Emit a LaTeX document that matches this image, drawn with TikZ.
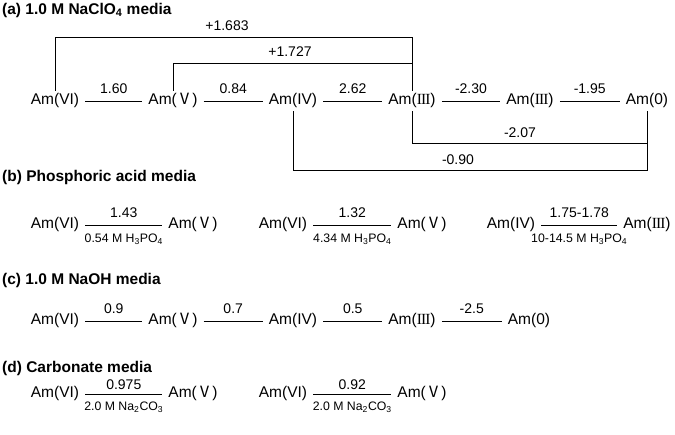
\documentclass[tikz,border=0pt]{standalone}
\usepackage{fontspec}
\setmainfont{Liberation Sans}
\newfontfamily\cjkf{Noto Sans CJK SC}
\newfontfamily\serf{Liberation Serif}
\newcommand{\rnV}{{\cjkf Ⅴ}}
\newcommand{\rnIII}{{\serf I\kern-0.06em I\kern-0.06em I}}
\begin{document}
\begin{tikzpicture}[x=1pt,y=-1pt,
  sp/.style={font=\fontsize{15.5}{18}\selectfont, inner xsep=6pt, inner ysep=3pt, text height=11pt, text depth=3.5pt},
  val/.style={font=\fontsize{14}{16}\selectfont, inner sep=1pt},
  cond/.style={font=\fontsize{12.3}{14}\selectfont, inner sep=1pt},
  ttl/.style={font=\bfseries\fontsize{15.5}{18}\selectfont, anchor=west, inner sep=0pt},
  ln/.style={line width=0.8pt}]
\useasboundingbox (0,0) rectangle (675,435);

% (a)
\node[ttl] (ta) at (2,10) {(a) 1.0 M NaClO\textsubscript{4} media};
\node[sp] (a1) at (55,101) {Am(VI)};
\node[sp] (a2) at (173,101) {Am(\rnV)};
\node[sp] (a3) at (293,101) {Am(IV)};
\node[sp] (a4) at (412,101) {Am(\rnIII)};
\node[sp] (a5) at (530,101) {Am(\rnIII)};
\node[sp] (a6) at (647,101) {Am(0)};
\draw[ln] (a1.east) -- node[val,above=6pt] (l1) {1.60} (a2.west);
\draw[ln] (a2.east) -- node[val,above=6pt] (l2) {0.84} (a3.west);
\draw[ln] (a3.east) -- node[val,above=6pt] (l3) {2.62} (a4.west);
\draw[ln] (a4.east) -- node[val,above=6pt] (l4) {-2.30} (a5.west);
\draw[ln] (a5.east) -- node[val,above=6pt] (l5) {-1.95} (a6.west);
\coordinate (h1) at (0,37);
\coordinate (h2) at (0,63);
\coordinate (h3) at (0,143);
\coordinate (h4) at (0,170);
\draw[ln] (a1.north) -- (a1.north |- h1) -- (a4.north |- h1) -- (a4.north);
\draw[ln] (a2.north) -- (a2.north |- h2) -- (a4.north |- h2);
\draw[ln] (a4.south) -- (a4.south |- h3) -- (a6.south |- h3);
\draw[ln] (a3.south) -- (a3.south |- h4) -- (a6.south |- h4) -- (a6.south);
\node[val] (p1) at (227,26) {+1.683};
\node[val] (p2) at (290,52) {+1.727};
\node[val] (p3) at (520,133) {-2.07};
\node[val] (p4) at (458,160) {-0.90};

% (b)
\node[ttl] (tb) at (2,177) {(b) Phosphoric acid media};
\node[sp] (b1) at (55,225) {Am(VI)};
\node[sp] (b2) at (193,225) {Am(\rnV)};
\node[sp] (b3) at (283,225) {Am(VI)};
\node[sp] (b4) at (422,225) {Am(\rnV)};
\node[sp] (b5) at (511,225) {Am(IV)};
\node[sp] (b6) at (647,225) {Am(\rnIII)};
\draw[ln] (b1.east) -- node[val,above=6pt] {1.43} node[cond,below=7.5pt] {0.54 M H\textsubscript{3}PO\textsubscript{4}} (b2.west);
\draw[ln] (b3.east) -- node[val,above=6pt] {1.32} node[cond,below=7.5pt] {4.34 M H\textsubscript{3}PO\textsubscript{4}} (b4.west);
\draw[ln] (b5.east) -- node[val,above=6pt] {1.75-1.78} node[cond,below=7.5pt] {10-14.5 M H\textsubscript{3}PO\textsubscript{4}} (b6.west);

% (c)
\node[ttl] (tc) at (2,280) {(c) 1.0 M NaOH media};
\node[sp] (c1) at (55,321) {Am(VI)};
\node[sp] (c2) at (173,321) {Am(\rnV)};
\node[sp] (c3) at (293,321) {Am(IV)};
\node[sp] (c4) at (412,321) {Am(\rnIII)};
\node[sp] (c5) at (529,321) {Am(0)};
\draw[ln] (c1.east) -- node[val,above=6pt] {0.9} (c2.west);
\draw[ln] (c2.east) -- node[val,above=6pt] {0.7} (c3.west);
\draw[ln] (c3.east) -- node[val,above=6pt] {0.5} (c4.west);
\draw[ln] (c4.east) -- node[val,above=6pt] {-2.5} (c5.west);

% (d)
\node[ttl] (td) at (2,368) {(d) Carbonate media};
\node[sp] (d1) at (55,394) {Am(VI)};
\node[sp] (d2) at (193,394) {Am(\rnV)};
\node[sp] (d3) at (283,394) {Am(VI)};
\node[sp] (d4) at (422,394) {Am(\rnV)};
\draw[ln] (d1.east) -- node[val,above=3pt] {0.975} node[cond,below=7pt] {2.0 M Na\textsubscript{2}CO\textsubscript{3}} (d2.west);
\draw[ln] (d3.east) -- node[val,above=3pt] {0.92} node[cond,below=7pt] {2.0 M Na\textsubscript{2}CO\textsubscript{3}} (d4.west);
\end{tikzpicture}
\end{document}
